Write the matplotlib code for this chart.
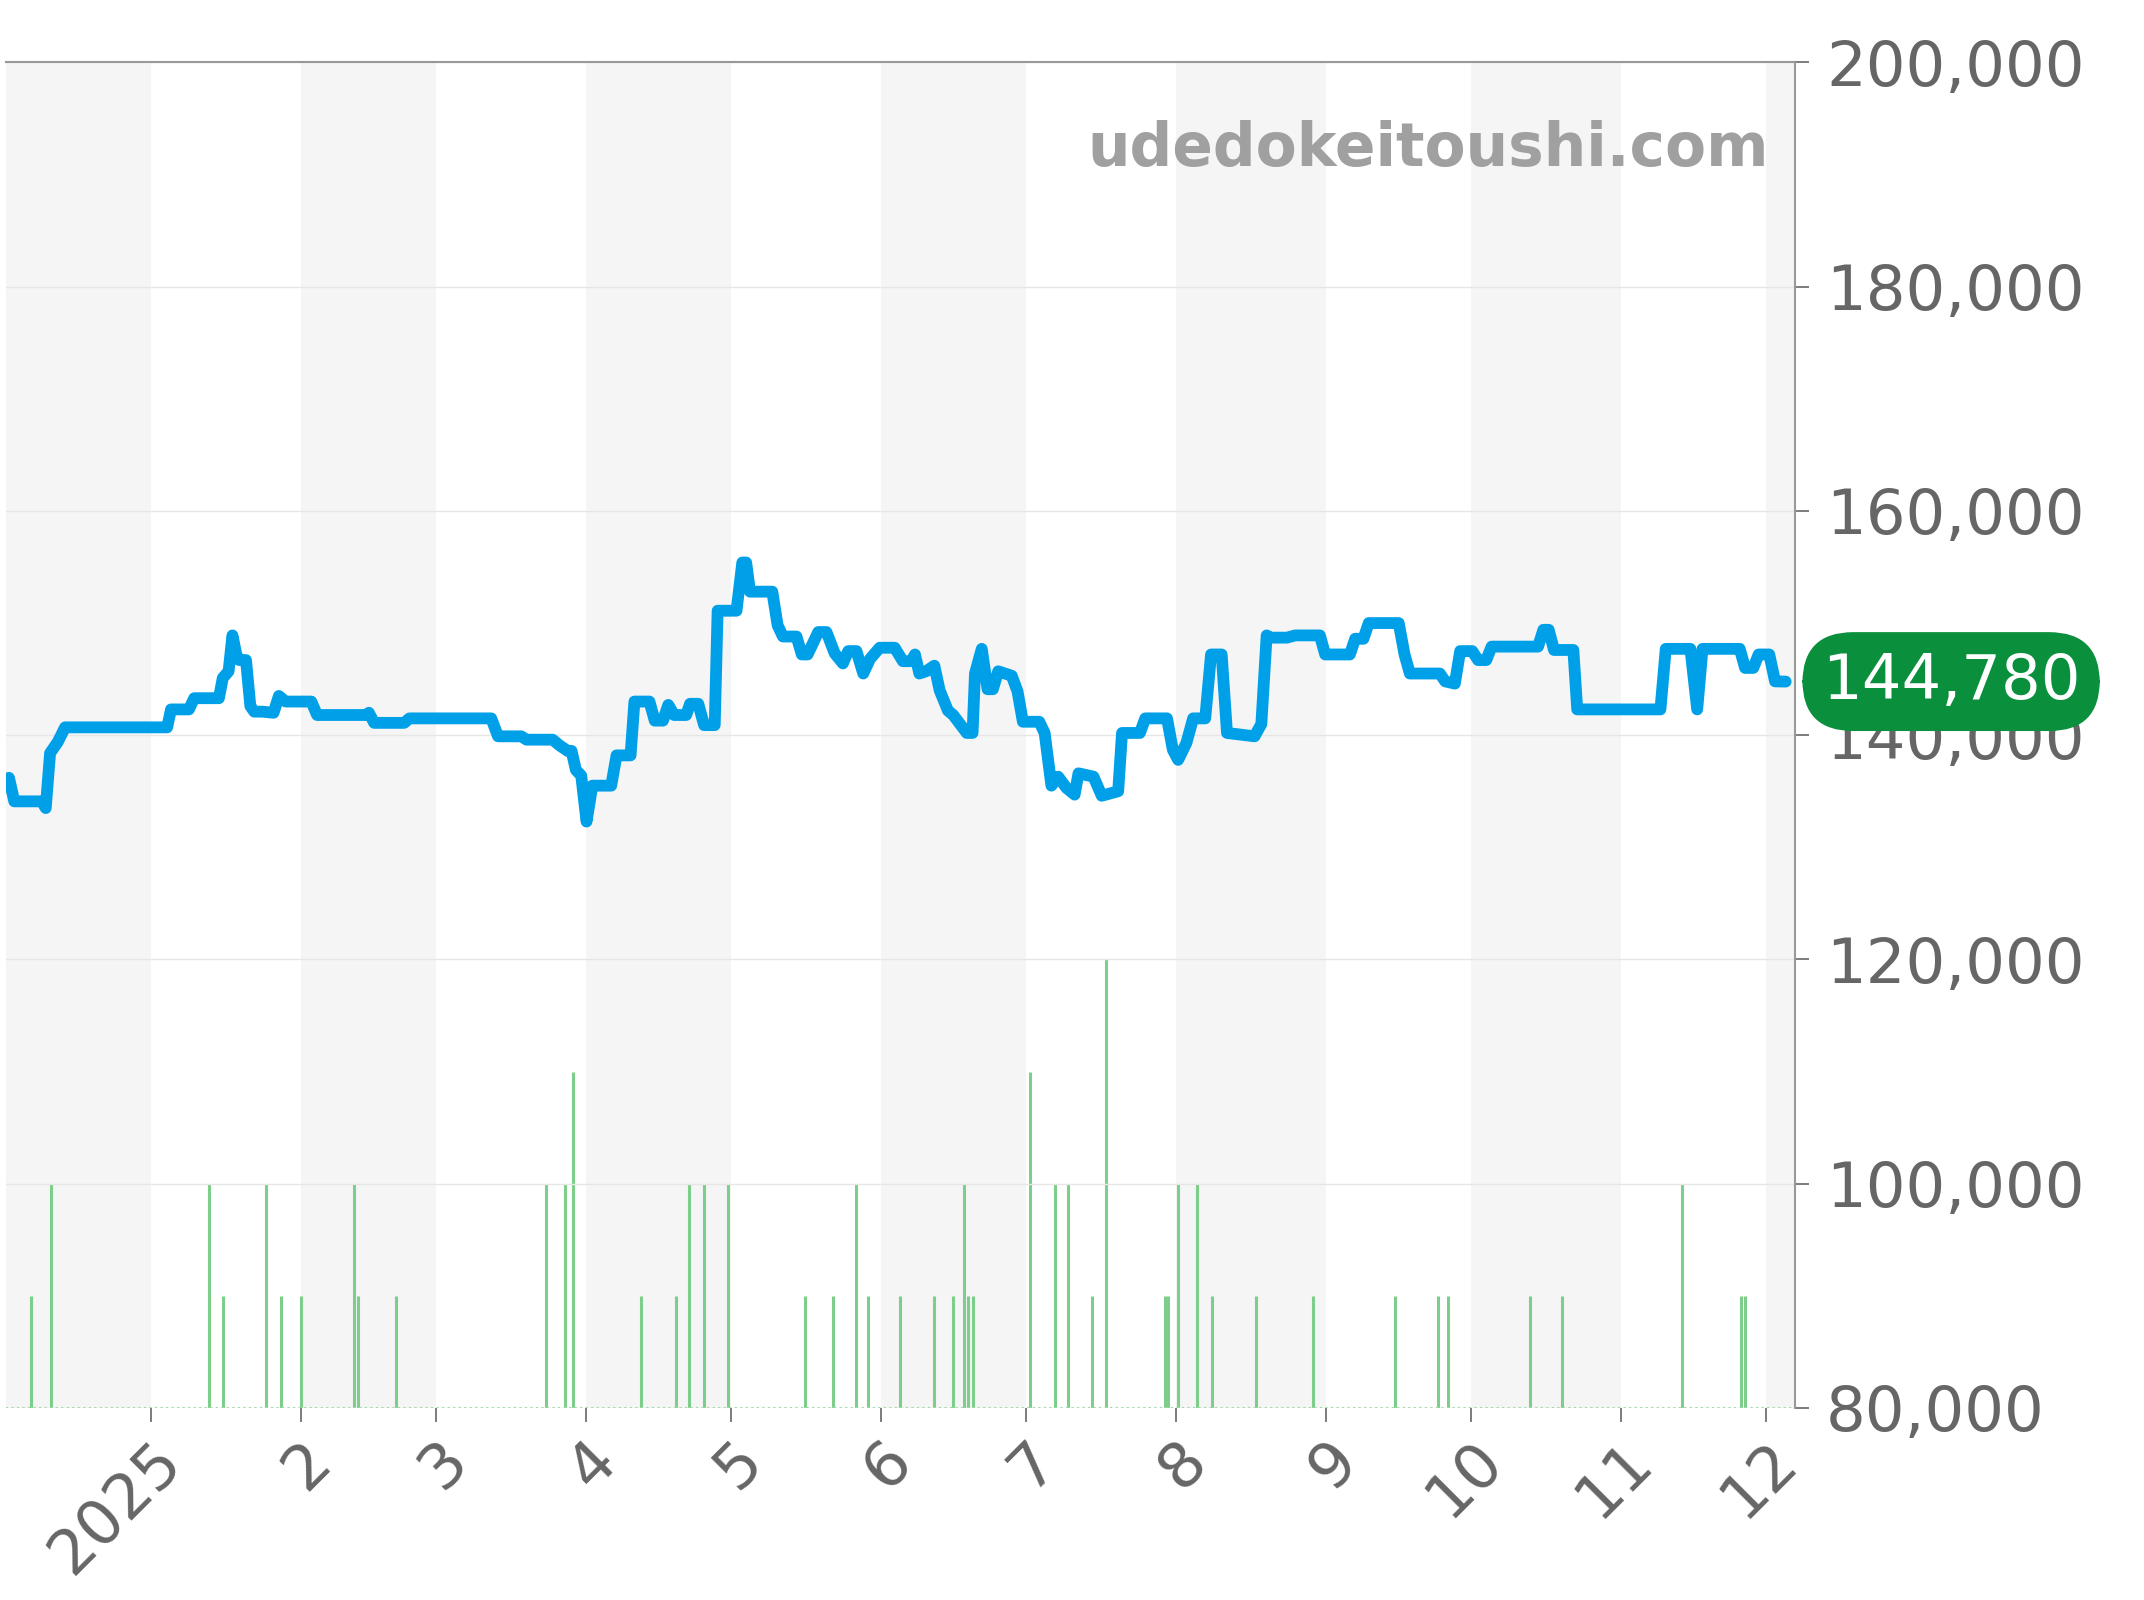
import matplotlib
matplotlib.use("Agg")
import matplotlib.pyplot as plt

# days from 2025-01-01, price in yen
price_days = [-29.3, -28.2, -22.5, -21.7, -20.8, -19.2, -17.7, 3.4, 4.2, 7.9, 9.0, 14.1, 14.9, 16.1, 16.9, 17.7,
              18.3, 19.7, 20.6, 21.4, 23.1, 25.4, 26.5, 27.9, 33.2, 34.4, 44.5, 45.1, 46.2, 52.4, 53.5, 70.4,
              71.8, 76.6, 77.7, 83.1, 84.5, 86.2, 87.0, 87.9, 89.0, 90.1, 91.3, 95.2, 96.3, 99.2, 100.0, 103.1,
              104.2, 105.9, 107.0, 108.2, 110.7, 111.5, 113.2, 114.4, 116.6, 117.2, 121.1, 122.3, 123.1, 123.9,
              128.5, 129.6, 130.7, 133.5, 134.6, 135.8, 136.9, 138.0, 139.7, 141.4, 143.1, 144.2, 145.9, 147.3,
              148.7, 150.7, 153.8, 155.5, 157.2, 158.0, 158.9, 160.3, 162.0, 163.1, 164.8, 165.9, 168.7, 169.9,
              170.4, 171.8, 173.0, 174.1, 175.2, 178.0, 179.2, 180.3, 183.7, 184.8, 186.2, 187.6, 189.3, 191.0,
              191.8, 194.9, 196.6, 200.0, 200.8, 204.5, 205.6, 210.1, 211.3, 212.4, 214.1, 215.5, 218.0, 219.2,
              221.4, 222.5, 228.2, 229.6, 230.7, 231.5, 234.9, 236.6, 241.7, 242.8, 247.9, 249.0, 250.7, 251.8,
              258.0, 259.2, 260.3, 266.5, 267.6, 269.6, 270.7, 273.2, 274.4, 276.1, 277.2, 286.8, 287.9, 289.0,
              290.1, 294.1, 294.9, 312.1, 313.2, 318.3, 319.7, 320.8, 328.5, 329.6, 331.3, 332.4, 334.6, 335.8,
              338.0]
price_vals = [136200, 134100, 134100, 133500, 138400, 139400, 140700, 140700, 142300, 142300, 143300, 143300,
              145100, 145700, 148900, 147200, 146700, 146700, 142600, 142100, 142100, 142000, 143500, 143000,
              143000, 141800, 141800, 142000, 141100, 141100, 141500, 141500, 139900, 139900, 139600, 139600,
              139100, 138600, 138600, 136900, 136400, 132300, 135500, 135500, 138200, 138200, 143000, 143000,
              141300, 141300, 142700, 141800, 141800, 142800, 142800, 140900, 140900, 151100, 151100, 155400,
              155400, 152800, 152800, 149800, 148800, 148800, 147200, 147200, 148200, 149200, 149200, 147300,
              146400, 147500, 147500, 145500, 146800, 147800, 147800, 146600, 146600, 147200, 145500, 145700,
              146200, 144000, 142200, 141800, 140200, 140200, 145500, 147700, 144100, 144100, 145700, 145300,
              143900, 141200, 141200, 140200, 135500, 136300, 135300, 134700, 136600, 136300, 134600, 135000,
              140200, 140200, 141500, 141500, 138700, 137800, 139300, 141500, 141500, 147200, 147200, 140200,
              139900, 141000, 148900, 148700, 148700, 148900, 148900, 147200, 147200, 148600, 148600, 150000,
              150000, 147200, 145500, 145500, 144800, 144600, 147500, 147500, 146700, 146700, 147900, 147900,
              149400, 149400, 147600, 147600, 142300, 142300, 147700, 147700, 142300, 147700, 147700, 146000,
              146000, 147200, 147200, 144800, 144780]

# sales count per day
vol_days = [-24.8, -20.6, 12.1, 14.9, 23.9, 27.0, 31.0, 42.0, 42.8, 50.7, 81.7, 85.6, 87.3, 101.4, 108.5, 111.3,
            114.4, 119.4, 135.2, 141.1, 145.9, 148.2, 154.9, 162.0, 165.9, 168.2, 169.0, 169.9, 181.7, 187.0,
            189.6, 194.6, 197.5, 209.6, 210.4, 212.4, 216.3, 219.4, 228.5, 240.3, 257.2, 266.2, 268.2, 285.1,
            291.8, 316.6, 328.7, 329.6]
vol_counts = [1, 2, 2, 1, 2, 1, 1, 2, 1, 1, 2, 2, 3, 1, 1, 2, 2, 2, 1, 1, 2, 1, 1, 1, 1, 2, 1, 1, 3, 2,
              2, 1, 4, 1, 1, 2, 2, 1, 1, 1, 1, 1, 1, 1, 1, 2, 1, 1]

month_starts = [-31, 0, 31, 59, 90, 120, 151, 181, 212, 243, 273, 304, 334]
month_labels = ["2025", "2", "3", "4", "5", "6", "7", "8", "9", "10", "11", "12"]
last_price = 144780

fig = plt.figure(figsize=(21.44, 16), dpi=100)
ax = fig.add_axes([0.0026, 0.120, 0.8348, 0.841])
xmin, xmax = -30.0, 340.0

ax2 = ax.twinx()
# alternating month shading (behind the volume bars)
for i in range(0, len(month_starts), 2):
    a = month_starts[i]
    b = month_starts[i + 1] if i + 1 < len(month_starts) else xmax
    ax2.axvspan(max(a, xmin), b, color="#f5f5f5", zorder=0, lw=0)
ax2.vlines(vol_days, 0, vol_counts, color="#7dce8a", lw=2.2, zorder=1)
ax2.set_ylim(0, 12)
ax2.axis("off")

ax.set_zorder(ax2.get_zorder() + 1)
ax.patch.set_visible(False)
ax.plot(price_days, price_vals, color="#00a0e9", lw=8.5, solid_joinstyle="round", solid_capstyle="round", zorder=3)

ax.set_xlim(xmin, xmax)
ax2.set_xlim(xmin, xmax)
ax.set_ylim(80000, 200000)
ax.set_xticks(month_starts[1:])
ax.set_xticklabels(month_labels, rotation=45, ha="right", rotation_mode="anchor")
ax.set_yticks(range(80000, 200001, 20000))
ax.set_yticklabels([f"{v:,}" for v in range(80000, 200001, 20000)])
ax.yaxis.tick_right()
ax.tick_params(axis="both", labelsize=45, colors="#666666", length=10, width=1.2, pad=12)
ax.tick_params(axis="x", pad=6)
ax.grid(axis="y", color="#e6e6e6", lw=1)
for s in ["left", "bottom"]:
    ax.spines[s].set_visible(False)
for s in ["top", "right"]:
    ax.spines[s].set_color("#999999")
    ax.spines[s].set_linewidth(1.5)
ax.axhline(80000, color="#9ed9a8", lw=1.5, ls=":", zorder=2)

ax.text(0.985, 0.935, "udedokeitoushi.com", transform=ax.transAxes, ha="right", va="center",
        fontsize=43, fontweight="bold", color="#a0a0a0")

ax.annotate(f"{last_price:,}", xy=(1.0, last_price), xycoords=("axes fraction", "data"),
            xytext=(1.087, last_price), textcoords=("axes fraction", "data"),
            ha="center", va="center", fontsize=45, color="white", zorder=10, annotation_clip=False,
            bbox=dict(boxstyle="round,pad=0.3,rounding_size=0.8", fc="#0a8f3c", ec="#0a8f3c"))

fig.savefig("out.png", dpi=100)
